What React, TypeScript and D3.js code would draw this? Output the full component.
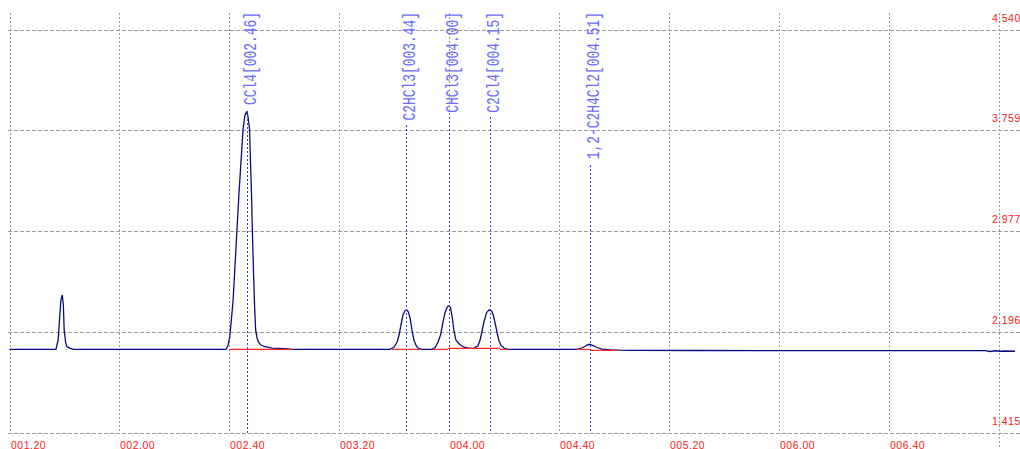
import React from "react";
import * as d3 from "d3";

const W = 1020;
const H = 449;

// detector trace: retention time (s) and signal
const signalTime = [
  80.0, 96.9, 97.7, 98.2, 98.7, 99.2, 99.6, 99.9, 100.4, 100.9, 102.0, 103.5,
  158.8, 159.5, 160.1, 160.6, 161.4, 162.1, 162.8, 163.5, 164.3, 165.0, 165.7, 166.3,
  166.8, 167.4, 167.7, 168.1, 168.4, 168.8, 169.2, 169.6, 170.1, 170.6, 171.5, 173.0,
  175.6, 180.3, 182.8,
  218.5, 220.0, 221.1, 221.8, 222.5, 223.2, 224.0, 224.6, 225.2, 225.8, 226.5, 227.2,
  228.0, 228.7, 230.2,
  233.8, 234.9, 236.0, 236.9, 237.6, 238.5, 239.4, 240.0, 240.5, 241.1, 241.8, 242.5,
  243.3, 244.4, 245.8, 247.6,
  249.1, 250.5, 251.3, 252.0, 252.7, 253.6, 254.4, 254.9, 255.5, 256.2, 256.9, 257.5,
  258.2, 258.9, 260.0, 261.5,
  286.6, 288.8, 290.2, 291.1, 292.0, 293.9, 295.7, 298.6, 302.2, 305.9, 331.3, 386.0,
  435.1, 436.9, 438.7, 440.6, 442.4, 446.0,
];
const signalValue = [
  2.06, 2.06, 2.132, 2.287, 2.442, 2.481, 2.404, 2.21, 2.117, 2.082, 2.067, 2.06,
  2.06, 2.086, 2.148, 2.249, 2.442, 2.714, 2.985, 3.257, 3.528, 3.761, 3.877, 3.9,
  3.869, 3.761, 3.528, 3.257, 2.985, 2.675, 2.404, 2.21, 2.148, 2.117, 2.093, 2.08,
  2.07, 2.066, 2.06,
  2.06, 2.078, 2.117, 2.171, 2.249, 2.326, 2.361, 2.365, 2.349, 2.303, 2.21, 2.132,
  2.09, 2.07, 2.06,
  2.06, 2.074, 2.117, 2.171, 2.249, 2.342, 2.392, 2.398, 2.384, 2.318, 2.202, 2.132,
  2.109, 2.09, 2.074, 2.068,
  2.07, 2.086, 2.132, 2.202, 2.272, 2.342, 2.363, 2.365, 2.357, 2.318, 2.249, 2.187,
  2.125, 2.09, 2.07, 2.06,
  2.06, 2.074, 2.093, 2.099, 2.093, 2.074, 2.061, 2.056, 2.053, 2.052, 2.051, 2.05,
  2.05, 2.043, 2.049, 2.045, 2.047, 2.045,
];

// identified peaks
const peakNames = ["CCl4", "C2HCl3", "CHCl3", "C2Cl4", "1,2-C2H4Cl2"];
const peakTimes = [166.3, 224.5, 240.0, 254.9, 291.2];
const peakStamps = ["002.46", "003.44", "004.00", "004.15", "004.51"];

// integration baselines (red)
const baseT0 = [160.1, 219.2, 234.2, 239.6, 258.5, 286.6, 291.3];
const baseV0 = [2.06, 2.06, 2.06, 2.068, 2.06, 2.06, 2.052];
const baseT1 = [182.8, 229.4, 239.6, 258.5, 261.5, 291.3, 301.1];
const baseV1 = [2.06, 2.06, 2.06, 2.068, 2.06, 2.06, 2.052];

const timeTicks = [80, 120, 160, 200, 240, 280, 320, 360, 400, 440];
const timeTickLabels = ["001.20", "002.00", "002.40", "003.20", "004.00", "004.40", "005.20", "006.00", "006.40"];
const signalTicks = [1.415, 2.196, 2.977, 3.759, 4.54];

const CHAR_W = 7.75;
const LABEL_FS = 18;
const MONO_W = 0.6 * LABEL_FS;

export default function App() {
  const x = d3.scaleLinear().domain([80, 440]).range([9.5, 998.5]);
  const y = d3.scaleLinear().domain([1.415, 4.54]).range([432.5, 29.5]);
  const px = (t: number) => Math.round(x(t)) + 0.5;

  const trace = signalTime.map((t, i) => [t, signalValue[i]] as [number, number]);
  const line = d3
    .line<[number, number]>()
    .x((d) => x(d[0]))
    .y((d) => y(d[1]));

  return (
    <svg
      width={W}
      height={H}
      style={{ position: "absolute", left: 0, top: 0, background: "#fff" }}
    >
      {/* grid */}
      {timeTicks.map((t, i) => (
        <line
          key={"vx" + i}
          x1={px(t)}
          x2={px(t)}
          y1={13}
          y2={i === timeTicks.length - 1 ? H : 433}
          stroke="#999"
          strokeDasharray="2,2"
        />
      ))}
      {signalTicks.map((v, i) => (
        <line
          key={"hy" + i}
          x1={8}
          x2={W}
          y1={Math.round(y(v)) + 0.5}
          y2={Math.round(y(v)) + 0.5}
          stroke="#999"
          strokeDasharray="4,2"
        />
      ))}

      {/* axis labels */}
      {timeTickLabels.map((s, i) => (
        <text
          key={"tl" + i}
          x={px(timeTicks[i]) + 0.5}
          y={448.5}
          fill="#ff2020"
          fontFamily="Liberation Sans, Arial, sans-serif"
          fontSize={10.5}
          letterSpacing={0.5}
        >
          {s}
        </text>
      ))}
      {signalTicks.map((v, i) => (
        <text
          key={"sl" + i}
          x={992}
          y={Math.round(y(v)) - 8.5}
          fill="#ff2020"
          fontFamily="Liberation Sans, Arial, sans-serif"
          fontSize={10.5}
          letterSpacing={0.5}
        >
          {d3.format(".3f")(v)}
        </text>
      ))}

      {/* chromatogram */}
      <path d={line(trace) || ""} fill="none" stroke="#0a0a80" strokeWidth={1.3} />

      {/* baselines */}
      {baseT0.map((t, i) => (
        <line
          key={"b" + i}
          x1={x(t)}
          x2={x(baseT1[i])}
          y1={y(baseV0[i])}
          y2={y(baseV1[i])}
          stroke="#ff2020"
          strokeWidth={1.2}
        />
      ))}

      {/* peak markers */}
      {peakNames.map((name, i) => {
        const label = `${name}[${peakStamps[i]}]`;
        const len = label.length * CHAR_W;
        const sx = CHAR_W / MONO_W;
        const xx = px(peakTimes[i]);
        const top = 13 + 2 * Math.round((len + 4) / 2);
        return (
          <g key={"p" + i}>
            <line
              x1={xx}
              x2={xx}
              y1={top}
              y2={433}
              stroke="#3a3aff"
              strokeDasharray="2,2"
            />
            <text
              transform={`translate(${xx + 8},12) rotate(-90) scale(${sx},1)`}
              textAnchor="end"
              fill="#6b6bff"
              fontFamily="Liberation Mono, Courier New, monospace"
              fontSize={LABEL_FS}
            >
              {label}
            </text>
          </g>
        );
      })}
    </svg>
  );
}
